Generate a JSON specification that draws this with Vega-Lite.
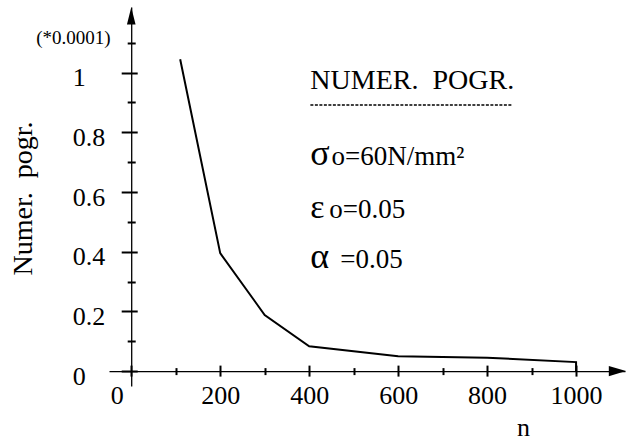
{
  "$schema": "https://vega.github.io/schema/vega-lite/v6.json",
  "width": 516,
  "height": 379,
  "autosize": "none",
  "padding": {"left": 109, "top": 7, "right": 1, "bottom": 57},
  "background": "white",
  "config": {
    "view": {"stroke": null},
    "axis": {
      "grid": false,
      "domainColor": "black",
      "domainWidth": 1.3,
      "tickColor": "black",
      "tickWidth": 2,
      "labelColor": "black",
      "titleColor": "black",
      "labelFont": "Liberation Serif",
      "titleFont": "Liberation Serif",
      "labelFontSize": 26,
      "titleFontSize": 26,
      "titleFontWeight": "normal",
      "labelFlush": false,
      "labelOverlap": false,
      "labelBound": false
    },
    "text": {"font": "Liberation Serif", "color": "black"}
  },
  "resolve": {"axis": {"x": "independent", "y": "independent"}},
  "layer": [
    {
      "data": {"values": [
        {"n": 110, "v": 1.045},
        {"n": 200, "v": 0.395},
        {"n": 300, "v": 0.188},
        {"n": 400, "v": 0.083},
        {"n": 600, "v": 0.05},
        {"n": 800, "v": 0.045},
        {"n": 1000, "v": 0.03},
        {"n": 1000, "v": 0}
      ]},
      "mark": {"type": "line", "color": "black", "strokeWidth": 2},
      "encoding": {
        "x": {"field": "n", "type": "quantitative", "scale": {"domain": [-50, 1110], "nice": false, "zero": false},
          "axis": {"orient": "bottom", "offset": -14.9, "values": [0, 200, 400, 600, 800, 1000], "format": "d", "tickSize": 5, "labelPadding": 6, "labelBaseline": "top",
            "labelAlign": {"condition": {"test": "datum.value == 0", "value": "right"}, "value": "center"},
            "labelOffset": {"condition": {"test": "datum.value == 0", "value": -8}, "value": 0},
            "title": "n", "titleX": 414, "titleY": 64, "titleBaseline": "alphabetic", "titleAlign": "center"}},
        "y": {"field": "v", "type": "quantitative", "scale": {"domain": [-0.05, 1.22], "nice": false, "zero": false},
          "axis": {"orient": "left", "offset": -22.2, "values": [0, 0.2, 0.4, 0.6, 0.8, 1], "labelExpr": "format(datum.value, '~g')", "tickSize": 10, "labelPadding": 49, "labelAlign": "left", "labelBaseline": "middle", "labelOffset": 5,
            "title": "Numer.\u00a0\u00a0pogr.", "titleFontSize": 28, "titleX": -99.5, "titleY": 191, "titleAngle": -90, "titleBaseline": "alphabetic", "titleAlign": "center"}}
      }
    },
    {
      "data": {"values": [{}]},
      "mark": {"type": "rule", "color": "black", "strokeWidth": 1.5, "strokeDash": [3, 1.5]},
      "encoding": {
        "x": {"datum": 402.7, "type": "quantitative", "scale": {"domain": [-50, 1110], "nice": false, "zero": false},
          "axis": {"orient": "bottom", "offset": -14.9, "values": [100, 300, 500, 700, 900], "tickSize": 3.5, "labels": false, "domain": false, "title": null}},
        "x2": {"datum": 857},
        "y": {"datum": 0.892, "type": "quantitative", "scale": {"domain": [-0.05, 1.22], "nice": false, "zero": false},
          "axis": {"orient": "left", "offset": -22.2, "values": [0.1, 0.3, 0.5, 0.7, 0.9, 1.1], "tickSize": 4, "labels": false, "domain": false, "title": null}}
      }
    },
    {
      "data": {"values": [{}]},
      "mark": {"type": "text", "text": "NUMER.\u00a0\u00a0POGR.", "align": "left", "baseline": "alphabetic", "fontSize": 28},
      "encoding": {
        "x": {"datum": 402.7, "type": "quantitative", "scale": {"domain": [-50, 1110], "nice": false, "zero": false},
          "axis": {"orient": "bottom", "offset": -14.9, "values": [100, 300, 500, 700, 900], "tickSize": -3.5, "labels": false, "domain": false, "title": null}},
        "y": {"datum": 0.945, "type": "quantitative", "scale": {"domain": [-0.05, 1.22], "nice": false, "zero": false},
          "axis": {"orient": "left", "offset": -22.2, "values": [0.1, 0.3, 0.5, 0.7, 0.9, 1.1], "tickSize": -4, "labels": false, "domain": false, "title": null}}
      }
    },
    {
      "data": {"values": [{}]},
      "mark": {"type": "text", "text": "σ", "align": "left", "baseline": "alphabetic", "fontSize": 36},
      "encoding": {
        "x": {"datum": 402.7, "type": "quantitative", "scale": {"domain": [-50, 1110], "nice": false, "zero": false}, "axis": null},
        "y": {"datum": 0.69, "type": "quantitative", "scale": {"domain": [-0.05, 1.22], "nice": false, "zero": false}, "axis": null}
      }
    },
    {
      "data": {"values": [{}]},
      "mark": {"type": "text", "text": "o=60N/mm²", "align": "left", "baseline": "alphabetic", "fontSize": 27},
      "encoding": {
        "x": {"datum": 450, "type": "quantitative", "scale": {"domain": [-50, 1110], "nice": false, "zero": false}, "axis": null},
        "y": {"datum": 0.69, "type": "quantitative", "scale": {"domain": [-0.05, 1.22], "nice": false, "zero": false}, "axis": null}
      }
    },
    {
      "data": {"values": [{}]},
      "mark": {"type": "text", "text": "ε", "align": "left", "baseline": "alphabetic", "fontSize": 34},
      "encoding": {
        "x": {"datum": 402.7, "type": "quantitative", "scale": {"domain": [-50, 1110], "nice": false, "zero": false}, "axis": null},
        "y": {"datum": 0.513, "type": "quantitative", "scale": {"domain": [-0.05, 1.22], "nice": false, "zero": false}, "axis": null}
      }
    },
    {
      "data": {"values": [{}]},
      "mark": {"type": "text", "text": "o=0.05", "align": "left", "baseline": "alphabetic", "fontSize": 27},
      "encoding": {
        "x": {"datum": 445.4, "type": "quantitative", "scale": {"domain": [-50, 1110], "nice": false, "zero": false}, "axis": null},
        "y": {"datum": 0.513, "type": "quantitative", "scale": {"domain": [-0.05, 1.22], "nice": false, "zero": false}, "axis": null}
      }
    },
    {
      "data": {"values": [{}]},
      "mark": {"type": "text", "text": "α", "align": "left", "baseline": "alphabetic", "fontSize": 36},
      "encoding": {
        "x": {"datum": 402.7, "type": "quantitative", "scale": {"domain": [-50, 1110], "nice": false, "zero": false}, "axis": null},
        "y": {"datum": 0.345, "type": "quantitative", "scale": {"domain": [-0.05, 1.22], "nice": false, "zero": false}, "axis": null}
      }
    },
    {
      "data": {"values": [{}]},
      "mark": {"type": "text", "text": "=0.05", "align": "left", "baseline": "alphabetic", "fontSize": 27},
      "encoding": {
        "x": {"datum": 470, "type": "quantitative", "scale": {"domain": [-50, 1110], "nice": false, "zero": false}, "axis": null},
        "y": {"datum": 0.345, "type": "quantitative", "scale": {"domain": [-0.05, 1.22], "nice": false, "zero": false}, "axis": null}
      }
    },
    {
      "data": {"values": [
        {"dir": "up", "n": 0, "v": 1.19},
        {"dir": "right", "n": 1093.1, "v": 0}
      ]},
      "mark": {"type": "point", "filled": true, "size": 300, "opacity": 1, "color": "black"},
      "encoding": {
        "x": {"field": "n", "type": "quantitative", "scale": {"domain": [-50, 1110], "nice": false, "zero": false},
          "axis": {"orient": "bottom", "offset": -14.9, "values": [0, 200, 400, 600, 800, 1000], "tickSize": -6, "labels": false, "domain": false, "title": null}},
        "y": {"field": "v", "type": "quantitative", "scale": {"domain": [-0.05, 1.22], "nice": false, "zero": false},
          "axis": {"orient": "left", "offset": -22.2, "values": [0, 0.2, 0.4, 0.6, 0.8, 1], "tickSize": -6, "labels": false, "domain": false,
            "title": "(*0.0001)", "titleAngle": 0, "titleAlign": "right", "titleBaseline": "middle", "titleX": -21, "titleY": 30.5, "titleFontSize": 19}},
        "shape": {"field": "dir", "type": "nominal",
          "scale": {"domain": ["up", "right"], "range": ["M0,-1L0.5,1L-0.5,1Z", "M1,0L-1,-0.6L-1,0.6Z"]},
          "legend": null}
      }
    }
  ]
}
